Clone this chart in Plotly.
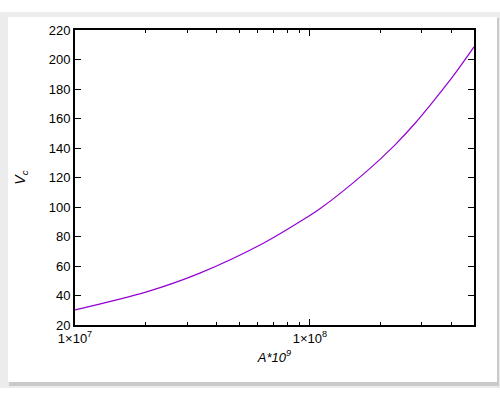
import plotly.graph_objects as go

# Data
A_vals = [1e7, 2e7, 3.4e7, 6.4e7, 9.5e7, 1.1e8, 1.74e8, 2.3e8, 2.8e8, 3.4e8, 4.14e8, 5e8]
Vc_vals = [30.2, 42.3, 55.2, 75.8, 92.0, 98.6, 124.0, 142.0, 156.6, 172.8, 190.2, 208.5]

x_major = [1e7, 1e8]
x_major_text = ["1×10<sup>7</sup>", "1×10<sup>8</sup>"]
x_minor = [2e7, 3e7, 4e7, 5e7, 6e7, 7e7, 8e7, 9e7, 2e8, 3e8, 4e8, 5e8]
y_ticks = [20, 40, 60, 80, 100, 120, 140, 160, 180, 200, 220]

FONT = "Liberation Sans, Arial, sans-serif"

fig = go.Figure()
fig.add_trace(go.Scatter(
    x=A_vals, y=Vc_vals, mode="lines",
    line=dict(color="#9400d3", width=1.2, shape="spline", smoothing=0.8),
    showlegend=False, hoverinfo="skip",
))

L, R, T, B = 75, 26, 30, 75
W, H = 500, 400
pw, ph = W - L - R, H - T - B

def px2x(px):
    return (px - L) / pw

def px2y(py):
    return (H - B - py) / ph

shapes = [
    # outer gray background band
    dict(type="rect", xref="paper", yref="paper", layer="below",
         x0=px2x(0), x1=px2x(500), y0=px2y(388), y1=px2y(12),
         fillcolor="#ececec", line=dict(width=0)),
    # shadow
    dict(type="rect", xref="paper", yref="paper", layer="below",
         x0=px2x(9), x1=px2x(499), y0=px2y(386), y1=px2y(18),
         fillcolor="#c9c9c9", line=dict(width=0)),
    # white card
    dict(type="rect", xref="paper", yref="paper", layer="below",
         x0=px2x(8), x1=px2x(497), y0=px2y(382), y1=px2y(17),
         fillcolor="#ffffff", line=dict(width=0)),
]

fig.update_layout(
    width=W, height=H,
    margin=dict(l=L, r=R, t=T, b=B),
    paper_bgcolor="#ffffff",
    plot_bgcolor="rgba(0,0,0,0)",
    font=dict(family=FONT, size=13, color="#000000"),
    shapes=shapes,
    xaxis=dict(
        type="log",
        range=[7, 8.69897],
        showgrid=False, zeroline=False,
        showline=True, linecolor="#000000", linewidth=2, mirror="allticks",
        ticks="inside", ticklen=6, tickwidth=1, tickcolor="#000000",
        tickvals=x_major, ticktext=x_major_text,
        minor=dict(tickvals=x_minor, ticks="inside", ticklen=3, tickwidth=1,
                   tickcolor="#000000", showgrid=False),
        tickfont=dict(family=FONT, size=13),
        title=dict(text="<i>A*10<sup>9</sup></i>", font=dict(family=FONT, size=13),
                   standoff=8),
        automargin=False,
    ),
    yaxis=dict(
        range=[20, 220],
        showgrid=False, zeroline=False,
        showline=True, linecolor="#000000", linewidth=2, mirror="allticks",
        ticks="inside", ticklen=6, tickwidth=1, tickcolor="#000000",
        tickvals=y_ticks,
        tickfont=dict(family=FONT, size=13),
        title=dict(text="<i>V<sub>c</sub></i>", font=dict(family=FONT, size=14),
                   standoff=20),
        automargin=False,
    ),
)

fig.write_html("out.html", config={"displayModeBar": False},
               post_script="document.body.style.margin='0';")
